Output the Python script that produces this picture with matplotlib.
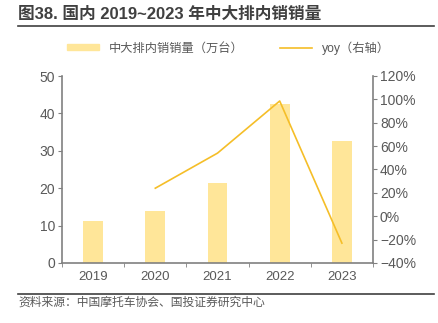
import numpy as np
import matplotlib.pyplot as plt
from matplotlib.lines import Line2D
from matplotlib.patches import Patch

plt.rcParams['font.family'] = ['Liberation Sans', 'Noto Sans CJK SC']

years = ['2019', '2020', '2021', '2022', '2023']
sales = [11.3, 13.9, 21.4, 42.5, 32.6]
yoy = [None, 24, 54, 98.6, -23]

grey = '#595959'
axcol = '#808080'
barcol = '#FFE699'
linecol = '#F5BE28'

fig = plt.figure(figsize=(4.39, 3.23), dpi=100)
ax = fig.add_axes([62/439, 1-263/323, (373-62)/439, (263-76)/323])
x = np.arange(len(years))
ax.bar(x, sales, width=0.32, color=barcol, zorder=2)
ax.set_xlim(-0.5, len(years)-0.5)
ax.set_ylim(0, 50)
ax.set_yticks([0, 10, 20, 30, 40, 50])
ax.set_xticks(x)
ax.set_xticklabels(years)
ax.set_xticks(np.arange(-0.5, len(years)), minor=True)
ax.tick_params(axis='x', which='major', length=0, pad=6, colors=grey, labelsize=9.5)
ax.tick_params(axis='x', which='minor', length=3, color=axcol, direction='out')
ax.tick_params(axis='y', length=3, color=axcol, colors=grey, labelsize=10, pad=2)
for s in ['top', 'right']:
    ax.spines[s].set_visible(False)
for s in ['left', 'bottom']:
    ax.spines[s].set_color(axcol)
    ax.spines[s].set_linewidth(1.2)

ax2 = ax.twinx()
xs = [i for i, v in enumerate(yoy) if v is not None]
ys = [v for v in yoy if v is not None]
ax2.plot(xs, ys, color=linecol, lw=1.2, zorder=3)
ax2.set_ylim(-40, 120)
ax2.set_yticks(np.arange(-40, 121, 20))
ax2.set_yticklabels([f'{v}%'.replace('-', '−') for v in range(-40, 121, 20)])
ax2.tick_params(axis='y', length=3, color=axcol, colors=grey, labelsize=10, pad=2)
for s in ['top', 'left', 'bottom']:
    ax2.spines[s].set_visible(False)
ax2.spines['right'].set_color(axcol)
ax2.spines['right'].set_linewidth(1.2)

fig.text(18/439, 1-14/323, '图38. 国内 2019~2023 年中大排内销销量', fontsize=12,
         fontweight='bold', color='#404040', va='center', ha='left')
fig.add_artist(Line2D([18/439, 434/439], [1-26/323, 1-26/323], color='#404040', lw=1.2))
fig.add_artist(Line2D([18/439, 434/439], [1-294/323, 1-294/323], color='#404040', lw=1.2))
fig.text(18/439, 1-303/323, '资料来源：中国摩托车协会、国投证券研究中心', fontsize=8.5,
         style='italic', color=grey, va='center', ha='left')

handles = [Patch(color=barcol), Line2D([], [], color=linecol, lw=1.2)]
fig.legend(handles, ['中大排内销销量（万台）', 'yoy（右轴）'], loc='center',
           bbox_to_anchor=(0.52, 1-48/323), ncol=2, frameon=False, fontsize=8.8,
           labelcolor=grey, handlelength=2.6, handleheight=0.4, columnspacing=3.0)

fig.savefig('out.png', dpi=100)
